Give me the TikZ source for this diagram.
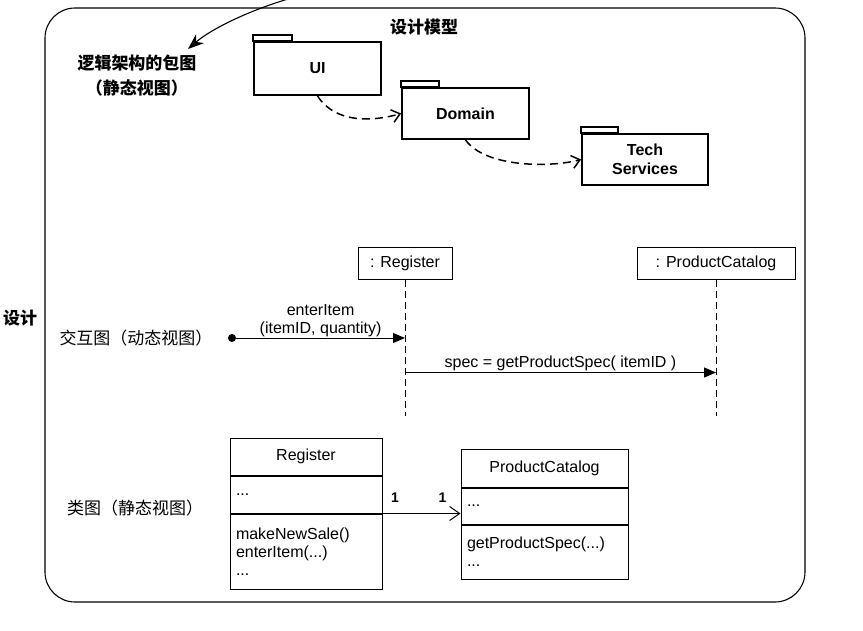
\documentclass[tikz,border=0pt]{standalone}
\usepackage{fontspec}
\setmainfont{Liberation Sans}
\newfontfamily\cjk{Noto Sans CJK SC}
\usepackage{tikz}
\usetikzlibrary{positioning,arrows.meta}

\begin{document}
\begin{tikzpicture}[x=1pt, y=-1pt, font=\fontsize{16}{18}\selectfont,
  pkg/.style={draw, line width=1.8pt, inner sep=0pt, align=center, font=\fontsize{16}{19}\selectfont\bfseries},
  pkgtab/.style={draw, line width=1.8pt},
  dep/.style={line width=1.5pt, dash pattern=on 8pt off 5pt, -{Straight Barb[length=8pt,width=13pt]}},
  lifebox/.style={draw, line width=1pt, minimum height=32pt, inner sep=0pt},
  lifeline/.style={line width=1pt, dash pattern=on 7pt off 4pt},
  msg/.style={line width=1pt, -{Triangle[length=12pt,width=10pt]}},
  clsname/.style={draw, line width=1pt, inner sep=0pt},
  clspart/.style={draw, line width=1pt, inner ysep=0pt, inner xsep=6pt, align=left},
  zh/.style={font=\fontsize{17}{25}\selectfont\cjk},
  zhb/.style={font=\fontsize{17}{25}\selectfont\cjk\bfseries}]
\useasboundingbox (0,0) rectangle (863,630);
\draw[line width=1.1pt, rounded corners=30pt] (45,8) rectangle (805,602);

\node[zhb] (model) at (424,27) {设计模型};
\node[zhb] (design) at (20,318) {设计};
\node[zhb, align=center] (pkglbl) at (137,76) {逻辑架构的包图\\（静态视图）};
\coordinate (src) at (288,-1);
\coordinate (tip) at (188,49);
\draw[line width=1.1pt, -{Stealth[length=16pt,width=12pt]}] (src) .. controls (245,12) and (210,30) .. (tip);

% packages
\node[pkg, minimum width=127pt, minimum height=53pt] (ui) at (317.5,68.5) {UI};
\node[pkg, minimum width=127pt, minimum height=51pt] (dom) at (465.5,113.5) {Domain};
\node[pkg, minimum width=126pt, minimum height=51pt] (tech) at (645,159.5) {Tech\\Services};
\draw[pkgtab] (ui.north west) rectangle ++(39,-6);
\draw[pkgtab] (dom.north west) rectangle ++(38,-6);
\draw[pkgtab] (tech.north west) rectangle ++(37,-6);
\draw[dep] (ui.south) .. controls +(18,28) and +(-28,8) .. (dom.west);
\draw[dep] (dom.south) .. controls +(20,28) and +(-30,8) .. (tech.west);

% interaction
\node[zh] (seqlbl) at (136,338) {交互图（动态视图）};
\node[lifebox, minimum width=94pt] (reg) at (405,263) {: Register};
\node[lifebox, minimum width=158pt] (pc) at (716,263) {: ProductCatalog};
\draw[lifeline] (reg.south) -- ++(0,136);
\draw[lifeline] (pc.south) -- ++(0,136);
\node[circle, fill, inner sep=0pt, minimum size=8pt] (found) at (232,338) {};
\draw[msg] (found) -- (found -| reg.south)
  node[midway, above, align=center, inner sep=1pt] {enterItem\\(itemID, quantity)};
\draw[msg] ([yshift=-93pt]reg.south) -- ([yshift=-93pt]pc.south)
  node[midway, above, inner sep=1pt] {spec = getProductSpec( itemID )};

% classes
\node[zh] (clslbl) at (135,508) {类图（静态视图）};
\node[clsname, minimum width=152pt, minimum height=37pt] (regname) at (306,456.5) {Register};
\node[clspart, text width=140pt, minimum height=37pt, below=0pt of regname] (regattr) {...};
\node[clspart, text width=140pt, minimum height=75pt, below=0pt of regattr] (regops) {makeNewSale()\\enterItem(...)\\...};
\node[clsname, minimum width=167pt, minimum height=38pt] (pcname) at (544.5,468) {ProductCatalog};
\node[clspart, text width=155pt, minimum height=36pt, below=0pt of pcname] (pcattr) {...};
\node[clspart, text width=155pt, minimum height=54pt, below=0pt of pcattr] (pcops) {getProductSpec(...)\\...};
\draw[line width=1pt, -{Straight Barb[length=10pt,width=14pt]}] (regattr.south east) -- (pcattr.west |- regattr.south east)
  node[pos=0.16, above=7pt, font=\fontsize{14}{16}\selectfont\bfseries] {1}
  node[pos=0.77, above=7pt, font=\fontsize{14}{16}\selectfont\bfseries] {1};
\end{tikzpicture}
\end{document}
